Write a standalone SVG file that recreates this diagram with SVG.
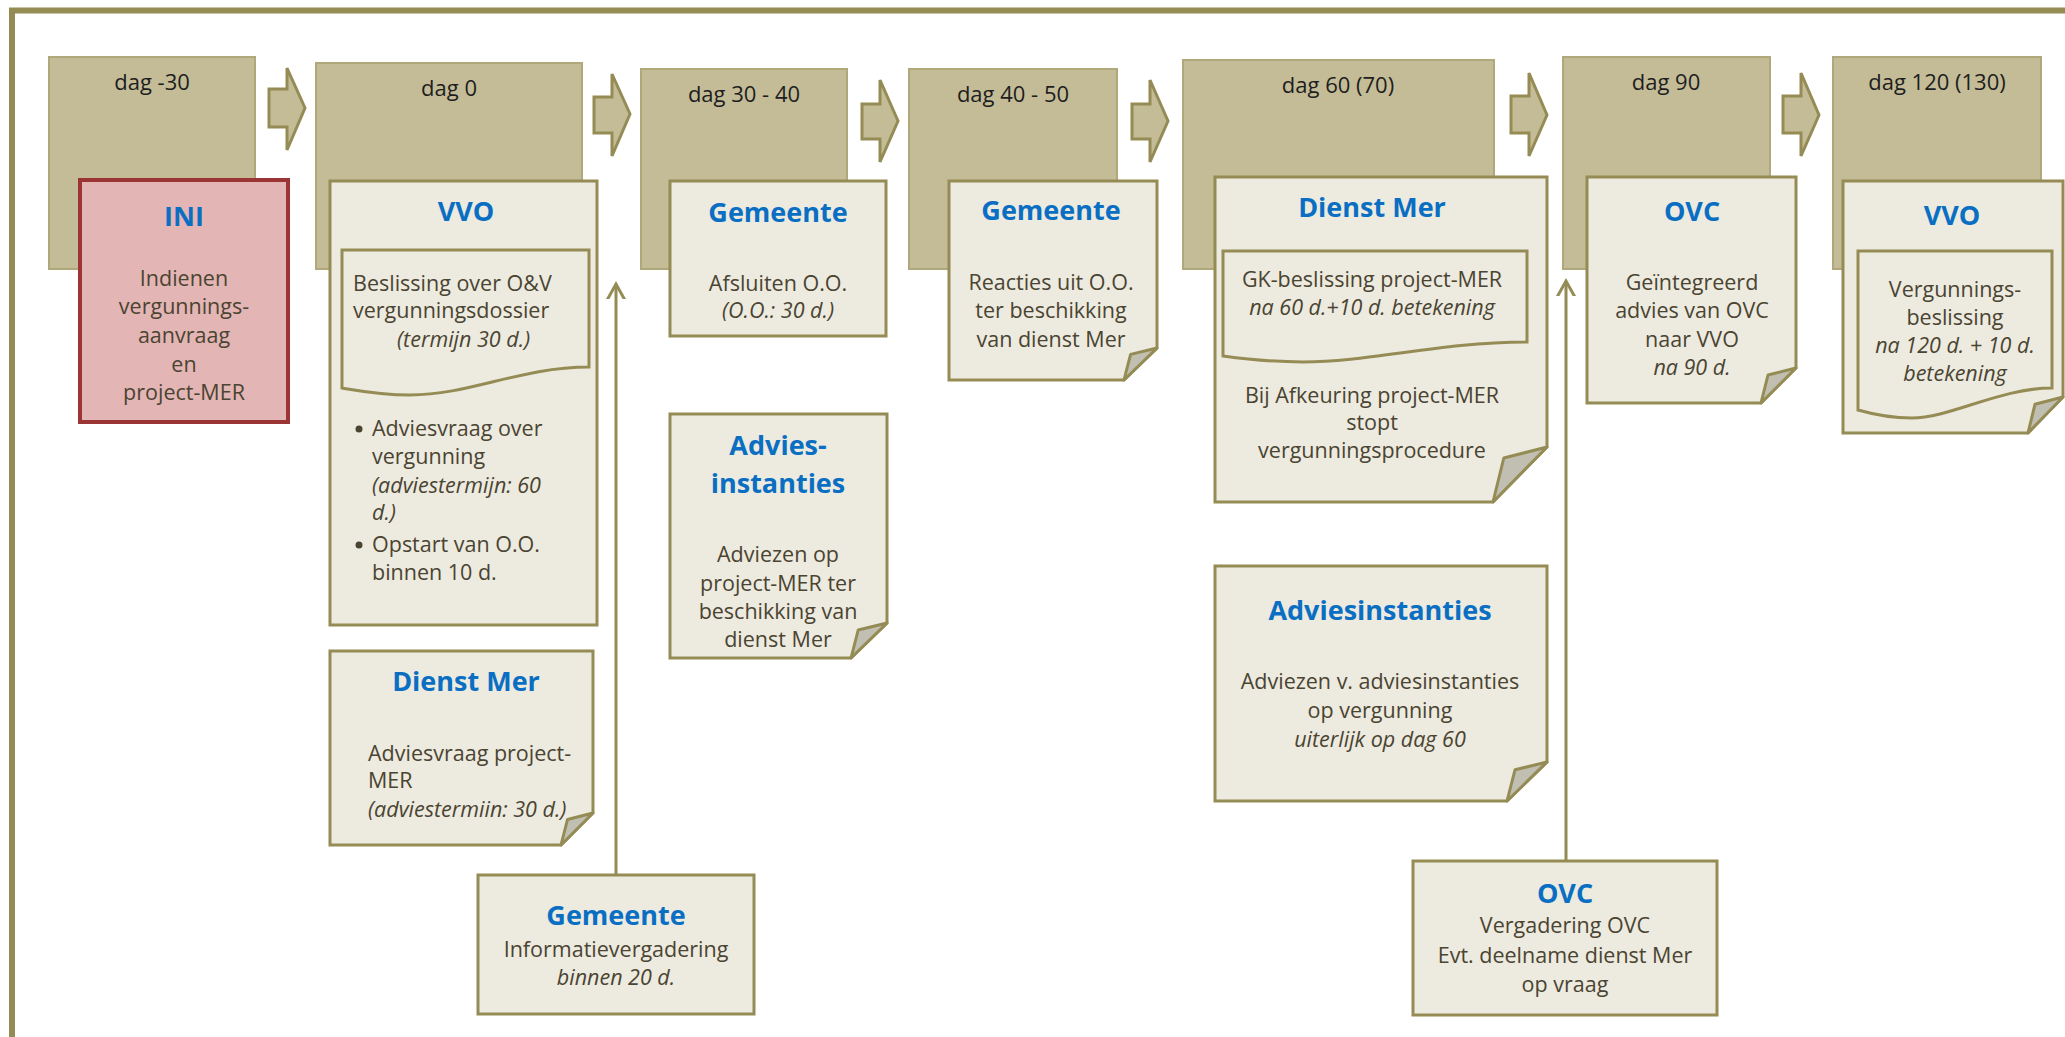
<svg xmlns="http://www.w3.org/2000/svg" width="2065" height="1037" viewBox="0 0 2065 1037">
<defs>
<style>
.frame{fill:none;stroke:#958c55;stroke-width:6}
.hdr{fill:#c4bc97;stroke:#b0a77a;stroke-width:2}
.arr{fill:#c4bc97;stroke:#958c55;stroke-width:3;stroke-linejoin:miter}
.doc{fill:#edeae0;stroke:#958c55;stroke-width:3}
.fold{fill:#c0bfb2;stroke:#958c55;stroke-width:3;stroke-linejoin:round}
.ini{fill:#e4b5b5;stroke:#9b3535;stroke-width:4}
.conn{fill:none;stroke:#958c55;stroke-width:3}
text{font-family:"Open Sans","Noto Sans","DejaVu Sans",sans-serif}
.h{font-size:22px;fill:#1e1e1e;text-anchor:middle}
.t{font-size:27px;font-weight:bold;fill:#0a6fc2;text-anchor:middle}
.b{font-size:21.5px;fill:#4a4431}
.c{text-anchor:middle}
.i{font-style:italic}
</style>
<marker id="open" markerUnits="userSpaceOnUse" markerWidth="30" markerHeight="30" viewBox="-15 -15 30 30" refX="0" refY="0" orient="auto">
<path d="M-18,-10 L0,0 L-18,10" fill="none" stroke="#958c55" stroke-width="3"/>
</marker>
</defs>
<rect x="0" y="0" width="2065" height="1037" fill="#ffffff"/>
<rect class="frame" x="12" y="10.5" width="2100" height="1100"/>

<g id="header-dag-m30"><rect class="hdr" x="49" y="57" width="206" height="212"/><text class="h" x="152" y="90">dag -30</text></g>
<g id="header-dag-0"><rect class="hdr" x="316" y="63" width="266" height="206"/><text class="h" x="449" y="96">dag 0</text></g>
<g id="header-dag-30-40"><rect class="hdr" x="641" y="69" width="206" height="200"/><text class="h" x="744" y="102">dag 30 - 40</text></g>
<g id="header-dag-40-50"><rect class="hdr" x="909" y="69" width="208" height="200"/><text class="h" x="1013" y="102">dag 40 - 50</text></g>
<g id="header-dag-60"><rect class="hdr" x="1183" y="60" width="311" height="209"/><text class="h" x="1338" y="93">dag 60 (70)</text></g>
<g id="header-dag-90"><rect class="hdr" x="1563" y="57" width="207" height="212"/><text class="h" x="1666" y="90">dag 90</text></g>
<g id="header-dag-120"><rect class="hdr" x="1833" y="57" width="208" height="212"/><text class="h" x="1937" y="90">dag 120 (130)</text></g>

<g id="timeline-arrows">
<path class="arr" d="M269,89 H287 V68 L305,108 L287,150 V127 H269 Z"/>
<path class="arr" d="M594,97 H612 V74 L630,114 L612,156 V133 H594 Z"/>
<path class="arr" d="M862,104 H880 V80 L898,121 L880,162 V139 H862 Z"/>
<path class="arr" d="M1132,104 H1150 V80 L1168,121 L1150,162 V139 H1132 Z"/>
<path class="arr" d="M1511,96 H1529 V73 L1547,115 L1529,156 V133 H1511 Z"/>
<path class="arr" d="M1783,96 H1801 V73 L1819,115 L1801,156 V133 H1783 Z"/>
</g>

<g id="connectors">
<line class="conn" x1="616" y1="875" x2="616" y2="284" marker-end="url(#open)"/>
<line class="conn" x1="1566" y1="861" x2="1566" y2="281" marker-end="url(#open)"/>
</g>

<g id="ini">
<rect class="ini" x="80" y="180" width="208" height="242"/>
<text class="t" x="184" y="226">INI</text>
<text class="b c" x="184" y="286">Indienen</text>
<text class="b c" x="184" y="314">vergunnings-</text>
<text class="b c" x="184" y="343">aanvraag</text>
<text class="b c" x="184" y="372">en</text>
<text class="b c" x="184" y="400">project-MER</text>
</g>

<g id="vvo-dag0">
<rect class="doc" x="330" y="181" width="267" height="444"/>
<text class="t" x="466" y="221">VVO</text>
<path class="doc" d="M342,250 H589 V367 C520,367 470,395 410,395 C380,395 360,391 342,388 Z"/>
<text class="b" x="353" y="291">Beslissing over O&amp;V</text>
<text class="b" x="353" y="318">vergunningsdossier</text>
<text class="b i" x="397" y="347">(termijn 30 d.)</text>
<circle cx="359" cy="429" r="3.5" fill="#4a4431"/>
<text class="b" x="372" y="436">Adviesvraag over</text>
<text class="b" x="372" y="464">vergunning</text>
<text class="b i" x="372" y="493">(adviestermijn: 60</text>
<text class="b i" x="372" y="520">d.)</text>
<circle cx="359" cy="545" r="3.5" fill="#4a4431"/>
<text class="b" x="372" y="552">Opstart van O.O.</text>
<text class="b" x="372" y="580">binnen 10 d.</text>
</g>

<g id="dienst-mer-dag0">
<path class="doc" d="M330,651 H593 V813 L561,845 H330 Z"/>
<path class="fold" d="M593,813 L567.5,819.5 L561,845 Z"/>
<text class="t" x="466" y="691">Dienst Mer</text>
<text class="b" x="368" y="761">Adviesvraag project-</text>
<text class="b" x="368" y="788">MER</text>
<text class="b i" x="368" y="817">(adviestermiin: 30 d.)</text>
</g>

<g id="gemeente-info">
<rect class="doc" x="478" y="875" width="276" height="139"/>
<text class="t" x="616" y="925">Gemeente</text>
<text class="b c" x="616" y="957">Informatievergadering</text>
<text class="b c i" x="616" y="985">binnen 20 d.</text>
</g>

<g id="gemeente-dag30">
<rect class="doc" x="670" y="181" width="216" height="155"/>
<text class="t" x="778" y="222">Gemeente</text>
<text class="b c" x="778" y="291">Afsluiten O.O.</text>
<text class="b c i" x="778" y="318">(O.O.: 30 d.)</text>
</g>

<g id="adviesinstanties-dag30">
<path class="doc" d="M670,414 H887 V623 L851,658 H670 Z"/>
<path class="fold" d="M887,623 L858.2,630 L851,658 Z"/>
<text class="t" x="778" y="455">Advies-</text>
<text class="t" x="778" y="493">instanties</text>
<text class="b c" x="778" y="562">Adviezen op</text>
<text class="b c" x="778" y="591">project-MER ter</text>
<text class="b c" x="778" y="619">beschikking van</text>
<text class="b c" x="778" y="647">dienst Mer</text>
</g>

<g id="gemeente-dag40">
<path class="doc" d="M949,181 H1157 V348 L1124,380 H949 Z"/>
<path class="fold" d="M1157,348 L1130.6,354.4 L1124,380 Z"/>
<text class="t" x="1051" y="220">Gemeente</text>
<text class="b c" x="1051" y="290">Reacties uit O.O.</text>
<text class="b c" x="1051" y="318">ter beschikking</text>
<text class="b c" x="1051" y="347">van dienst Mer</text>
</g>

<g id="dienst-mer-dag60">
<path class="doc" d="M1215,177 H1547 V447 L1493,502 H1215 Z"/>
<path class="fold" d="M1547,447 L1503.8,458 L1493,502 Z"/>
<text class="t" x="1372" y="217">Dienst Mer</text>
<path class="doc" d="M1223,251 H1527 V342 C1440,342 1370,362 1303,362 C1270,362 1245,359 1223,356 Z"/>
<text class="b c" x="1372" y="287">GK-beslissing project-MER</text>
<text class="b c i" x="1372" y="315">na 60 d.+10 d. betekening</text>
<text class="b c" x="1372" y="403">Bij Afkeuring project-MER</text>
<text class="b c" x="1372" y="430">stopt</text>
<text class="b c" x="1372" y="458">vergunningsprocedure</text>
</g>

<g id="adviesinstanties-dag60">
<path class="doc" d="M1215,566 H1547 V762 L1507,801 H1215 Z"/>
<path class="fold" d="M1547,762 L1515,769.8 L1507,801 Z"/>
<text class="t" x="1380" y="620">Adviesinstanties</text>
<text class="b c" x="1380" y="689">Adviezen v. adviesinstanties</text>
<text class="b c" x="1380" y="718">op vergunning</text>
<text class="b c i" x="1380" y="747">uiterlijk op dag 60</text>
</g>

<g id="ovc-vergadering">
<rect class="doc" x="1413" y="861" width="304" height="154"/>
<text class="t" x="1565" y="903">OVC</text>
<text class="b c" x="1565" y="933">Vergadering OVC</text>
<text class="b c" x="1565" y="963">Evt. deelname dienst Mer</text>
<text class="b c" x="1565" y="992">op vraag</text>
</g>

<g id="ovc-dag90">
<path class="doc" d="M1587,177 H1796 V368 L1761,403 H1587 Z"/>
<path class="fold" d="M1796,368 L1768,375 L1761,403 Z"/>
<text class="t" x="1692" y="221">OVC</text>
<text class="b c" x="1692" y="290">Geïntegreerd</text>
<text class="b c" x="1692" y="318">advies van OVC</text>
<text class="b c" x="1692" y="347">naar VVO</text>
<text class="b c i" x="1692" y="375">na 90 d.</text>
</g>

<g id="vvo-dag120">
<path class="doc" d="M1843,181 H2063 V397 L2028,433 H1843 Z"/>
<path class="fold" d="M2063,397 L2035,404.2 L2028,433 Z"/>
<text class="t" x="1952" y="225">VVO</text>
<path class="doc" d="M1858,251 H2052 V388 C2000,388 1950,418 1912,418 C1890,418 1872,414 1858,410 Z"/>
<text class="b c" x="1955" y="297">Vergunnings-</text>
<text class="b c" x="1955" y="325">beslissing</text>
<text class="b c i" x="1955" y="353">na 120 d. + 10 d.</text>
<text class="b c i" x="1955" y="381">betekening</text>
</g>
</svg>
